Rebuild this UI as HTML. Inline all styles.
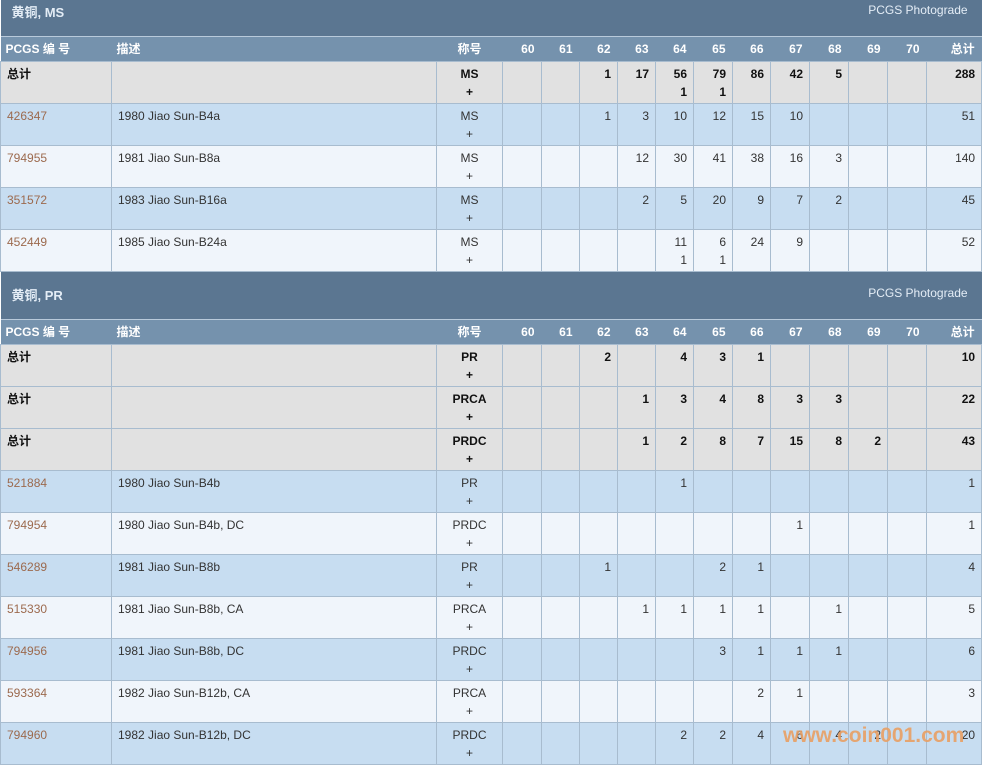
<!DOCTYPE html>
<html><head><meta charset="utf-8"><style>
body{margin:0;width:983px;height:766px;overflow:hidden;background:#fff;font-family:"Liberation Sans","Noto Sans CJK SC",sans-serif;font-size:12px;color:#333}
table{border-collapse:collapse;table-layout:fixed;width:981px;position:absolute;left:0;top:-11px}
td{border:1px solid #a8bccf;padding:0 6px;vertical-align:top;line-height:18px;overflow:hidden;white-space:nowrap}
tr.sec td{background:#5b7691;height:41px;border:none;border-bottom:1px solid #b9cadb;color:#e4edf6;font-weight:bold;font-size:13px;vertical-align:middle;padding:0 0 0 11px}
tr.sec td.pg{font-weight:normal;font-size:12px;text-align:right;padding:0 14px 6px 0}
tr.hd td{background:#7592ad;color:#fff;font-weight:bold;height:24px;border:none;border-bottom:1px solid #a8bccf;vertical-align:middle;text-align:right;padding:0 7px}
tr.hd td.l{text-align:left;padding-left:5px}
tr.hd td.c{text-align:center}
tr.r td{height:38px;padding-top:3px;padding-bottom:0;text-align:right}
tr.r td.id{text-align:left;color:#9c6a4e}
tr.r td.ds{text-align:left}
tr.r td.t{text-align:center}
tr.g td{background:#e1e1e1;font-weight:bold;color:#111}
tr.g td.id{color:#111}
tr.b td{background:#c7ddf1}
tr.w td{background:#f0f5fb}
.wm{position:absolute;left:783px;top:724px;font-size:21px;font-weight:bold;color:#e9a064;opacity:.9;font-family:"Liberation Sans",sans-serif}
</style></head><body>
<table>
<colgroup><col style="width:111px"><col style="width:325px"><col style="width:66px"><col style="width:39px"><col style="width:38px"><col style="width:38px"><col style="width:38px"><col style="width:38px"><col style="width:39px"><col style="width:38px"><col style="width:39px"><col style="width:39px"><col style="width:39px"><col style="width:39px"><col style="width:55px"></colgroup>
<tr class="sec"><td colspan="9">黄铜, MS</td><td colspan="6" class="pg">PCGS Photograde</td></tr>
<tr class="hd"><td class="l">PCGS 编 号</td><td class="l">描述</td><td class="c">称号</td><td>60</td><td>61</td><td>62</td><td>63</td><td>64</td><td>65</td><td>66</td><td>67</td><td>68</td><td>69</td><td>70</td><td>总计</td></tr>
<tr class="r g"><td class="id">总计</td><td class="ds"></td><td class="t">MS<br>+</td><td></td><td></td><td>1</td><td>17</td><td>56<br>1</td><td>79<br>1</td><td>86</td><td>42</td><td>5</td><td></td><td></td><td>288</td></tr>
<tr class="r b"><td class="id">426347</td><td class="ds">1980 Jiao Sun-B4a</td><td class="t">MS<br>+</td><td></td><td></td><td>1</td><td>3</td><td>10</td><td>12</td><td>15</td><td>10</td><td></td><td></td><td></td><td>51</td></tr>
<tr class="r w"><td class="id">794955</td><td class="ds">1981 Jiao Sun-B8a</td><td class="t">MS<br>+</td><td></td><td></td><td></td><td>12</td><td>30</td><td>41</td><td>38</td><td>16</td><td>3</td><td></td><td></td><td>140</td></tr>
<tr class="r b"><td class="id">351572</td><td class="ds">1983 Jiao Sun-B16a</td><td class="t">MS<br>+</td><td></td><td></td><td></td><td>2</td><td>5</td><td>20</td><td>9</td><td>7</td><td>2</td><td></td><td></td><td>45</td></tr>
<tr class="r w"><td class="id">452449</td><td class="ds">1985 Jiao Sun-B24a</td><td class="t">MS<br>+</td><td></td><td></td><td></td><td></td><td>11<br>1</td><td>6<br>1</td><td>24</td><td>9</td><td></td><td></td><td></td><td>52</td></tr>
<tr class="sec"><td colspan="9">黄铜, PR</td><td colspan="6" class="pg">PCGS Photograde</td></tr>
<tr class="hd"><td class="l">PCGS 编 号</td><td class="l">描述</td><td class="c">称号</td><td>60</td><td>61</td><td>62</td><td>63</td><td>64</td><td>65</td><td>66</td><td>67</td><td>68</td><td>69</td><td>70</td><td>总计</td></tr>
<tr class="r g"><td class="id">总计</td><td class="ds"></td><td class="t">PR<br>+</td><td></td><td></td><td>2</td><td></td><td>4</td><td>3</td><td>1</td><td></td><td></td><td></td><td></td><td>10</td></tr>
<tr class="r g"><td class="id">总计</td><td class="ds"></td><td class="t">PRCA<br>+</td><td></td><td></td><td></td><td>1</td><td>3</td><td>4</td><td>8</td><td>3</td><td>3</td><td></td><td></td><td>22</td></tr>
<tr class="r g"><td class="id">总计</td><td class="ds"></td><td class="t">PRDC<br>+</td><td></td><td></td><td></td><td>1</td><td>2</td><td>8</td><td>7</td><td>15</td><td>8</td><td>2</td><td></td><td>43</td></tr>
<tr class="r b"><td class="id">521884</td><td class="ds">1980 Jiao Sun-B4b</td><td class="t">PR<br>+</td><td></td><td></td><td></td><td></td><td>1</td><td></td><td></td><td></td><td></td><td></td><td></td><td>1</td></tr>
<tr class="r w"><td class="id">794954</td><td class="ds">1980 Jiao Sun-B4b, DC</td><td class="t">PRDC<br>+</td><td></td><td></td><td></td><td></td><td></td><td></td><td></td><td>1</td><td></td><td></td><td></td><td>1</td></tr>
<tr class="r b"><td class="id">546289</td><td class="ds">1981 Jiao Sun-B8b</td><td class="t">PR<br>+</td><td></td><td></td><td>1</td><td></td><td></td><td>2</td><td>1</td><td></td><td></td><td></td><td></td><td>4</td></tr>
<tr class="r w"><td class="id">515330</td><td class="ds">1981 Jiao Sun-B8b, CA</td><td class="t">PRCA<br>+</td><td></td><td></td><td></td><td>1</td><td>1</td><td>1</td><td>1</td><td></td><td>1</td><td></td><td></td><td>5</td></tr>
<tr class="r b"><td class="id">794956</td><td class="ds">1981 Jiao Sun-B8b, DC</td><td class="t">PRDC<br>+</td><td></td><td></td><td></td><td></td><td></td><td>3</td><td>1</td><td>1</td><td>1</td><td></td><td></td><td>6</td></tr>
<tr class="r w"><td class="id">593364</td><td class="ds">1982 Jiao Sun-B12b, CA</td><td class="t">PRCA<br>+</td><td></td><td></td><td></td><td></td><td></td><td></td><td>2</td><td>1</td><td></td><td></td><td></td><td>3</td></tr>
<tr class="r b"><td class="id">794960</td><td class="ds">1982 Jiao Sun-B12b, DC</td><td class="t">PRDC<br>+</td><td></td><td></td><td></td><td></td><td>2</td><td>2</td><td>4</td><td>6</td><td>4</td><td>2</td><td></td><td>20</td></tr>
</table>
<div class="wm">www.coin001.com</div>
</body></html>
